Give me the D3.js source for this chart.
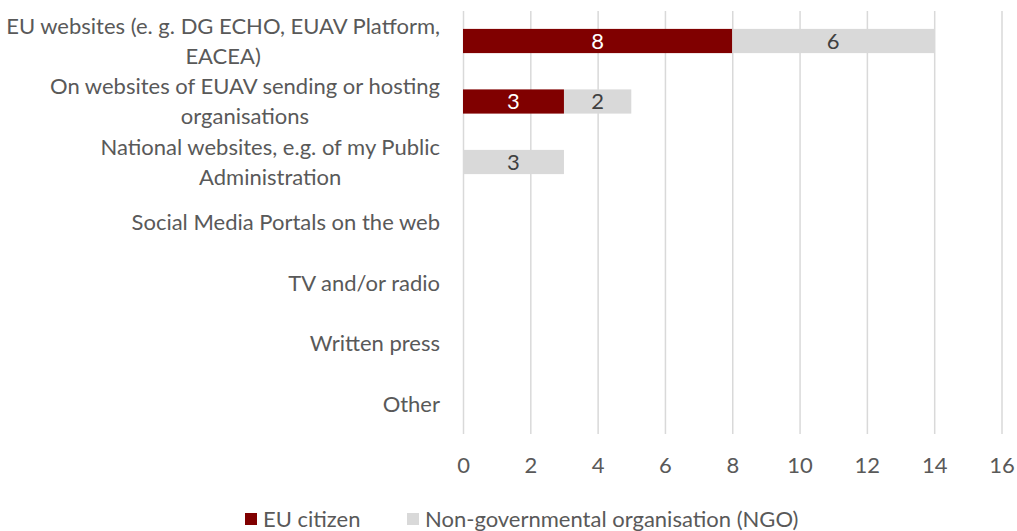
<!DOCTYPE html>
<html>
<head>
<meta charset="utf-8">
<script src="https://cdn.jsdelivr.net/npm/d3@7"></script>
<style>
  html, body { margin: 0; padding: 0; background: #fff; }
  svg { display: block; font-family: Lato, "Open Sans", sans-serif; }
</style>
</head>
<body>
<svg id="chart" width="1017" height="531"></svg>
<script>
// ---- data ----
const categories = [
  "EU websites (e. g. DG ECHO, EUAV Platform,\nEACEA)",
  "On websites of EUAV sending or hosting\norganisations",
  "National websites, e.g. of my Public\nAdministration",
  "Social Media Portals on the web",
  "TV and/or radio",
  "Written press",
  "Other"
];
const seriesNames = ["EU citizen", "Non-governmental organisation (NGO)"];
const euCitizen = [8, 3, 0, 0, 0, 0, 0];
const ngo = [6, 2, 3, 0, 0, 0, 0];
const xTicks = [0, 2, 4, 6, 8, 10, 12, 14, 16];

// ---- styles ----
const colors = ["#800000", "#d9d9d9"];
const labelColors = ["#ffffff", "#404040"];
const textColor = "#595959";
const fontSize = 22;

const svg = d3.select("#chart");

const x = d3.scaleLinear().domain([0, 16]).range([463, 1001.5]);
const y = d3.scaleBand().domain(categories).range([10.75, 434.25])
  .paddingInner(0.6).paddingOuter(0.3);

// gridlines
const grid = svg.append("g")
  .attr("transform", "translate(0,434)")
  .call(d3.axisBottom(x).tickValues(xTicks).tickSize(-423).tickFormat(""));
grid.select(".domain").remove();
grid.selectAll("line").attr("stroke", "#d9d9d9").attr("stroke-width", 1.5);

// tick labels
const axis = svg.append("g")
  .attr("transform", "translate(0,457)")
  .call(d3.axisBottom(x).tickValues(xTicks).tickSize(0).tickPadding(0));
axis.select(".domain").remove();
axis.selectAll("text")
  .attr("font-size", fontSize)
  .attr("fill", textColor)
  .attr("dy", "0.72em")
  .style("font-family", "Lato, 'Open Sans', sans-serif");

// stacked data
const rows = categories.map((c, i) => ({ cat: c, v: [euCitizen[i], ngo[i]] }));
const stack = d3.stack().keys([0, 1]).value((d, k) => d.v[k]);
const stacked = stack(rows);

const layers = svg.append("g").selectAll("g")
  .data(stacked).join("g")
  .attr("fill", (d, i) => colors[i]);

layers.selectAll("rect")
  .data(d => d.map(p => ({ p, cat: p.data.cat })))
  .join("rect")
  .filter(d => d.p[1] - d.p[0] > 0)
  .attr("x", d => x(d.p[0]))
  .attr("y", d => y(d.cat))
  .attr("width", d => x(d.p[1]) - x(d.p[0]))
  .attr("height", y.bandwidth());

// value labels
stacked.forEach((layer, li) => {
  svg.append("g").selectAll("text")
    .data(layer.filter(p => p[1] - p[0] > 0))
    .join("text")
    .attr("x", p => (x(p[0]) + x(p[1])) / 2)
    .attr("y", p => y(p.data.cat) + y.bandwidth() / 2)
    .attr("dy", "0.36em")
    .attr("text-anchor", "middle")
    .attr("font-size", fontSize)
    .attr("fill", labelColors[li])
    .text(p => p[1] - p[0]);
});

// category labels
const lineH = 30;
const catG = svg.append("g");
categories.forEach(c => {
  const lines = c.split("\n");
  const g = catG.append("g");
  const texts = lines.map((ln, i) => g.append("text")
    .attr("font-size", fontSize)
    .attr("fill", textColor)
    .attr("text-anchor", "middle")
    .attr("dy", "0.36em")
    .attr("y", y(c) + y.bandwidth() / 2 + (i - (lines.length - 1) / 2) * lineH)
    .text(ln));
  const maxW = d3.max(texts, t => t.node().getComputedTextLength());
  texts.forEach(t => t.attr("x", 440 - maxW / 2));
});

// legend
const legendX = [245, 407];
const legend = svg.append("g");
seriesNames.forEach((name, i) => {
  legend.append("rect")
    .attr("x", legendX[i]).attr("y", 513)
    .attr("width", 12).attr("height", 12)
    .attr("fill", colors[i]);
  legend.append("text")
    .attr("x", legendX[i] + 18).attr("y", 519)
    .attr("dy", "0.36em")
    .attr("font-size", fontSize)
    .attr("fill", textColor)
    .text(name);
});
</script>
</body>
</html>
